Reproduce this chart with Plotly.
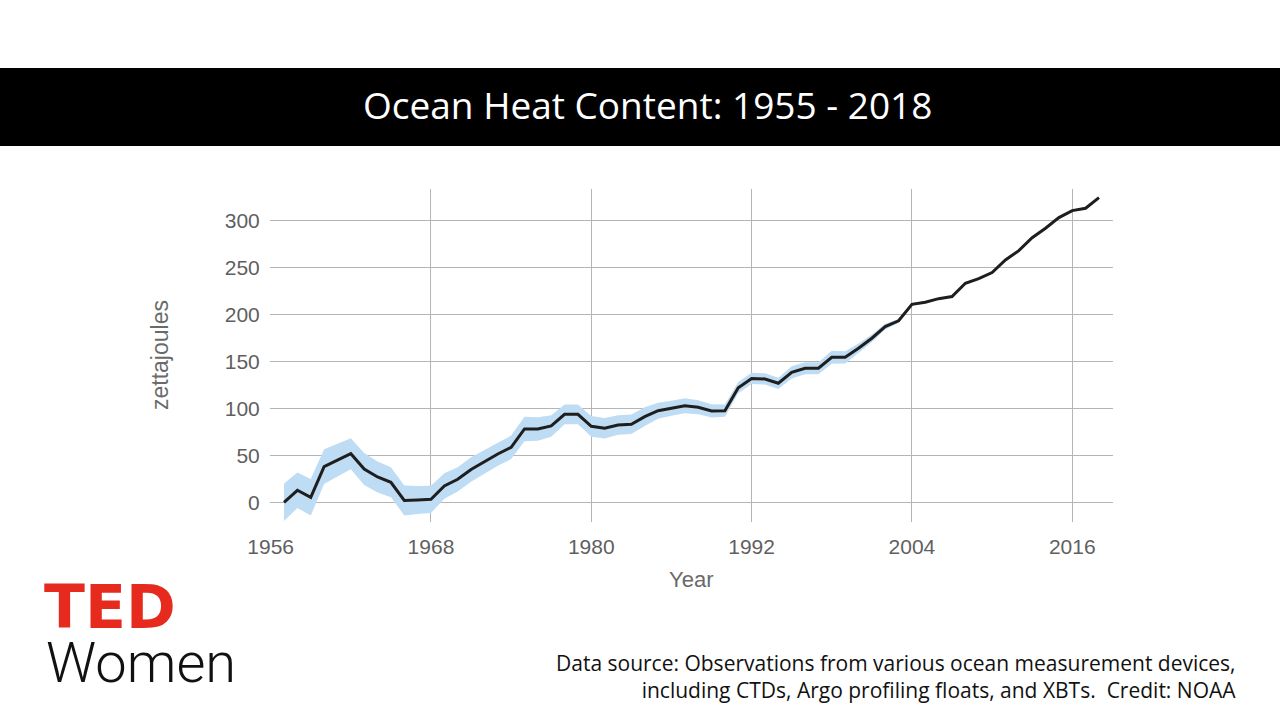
import plotly.graph_objects as go

# ---- data ----
years = list(range(1957, 2019))
heat_zj = [0, 12.8, 5.3, 38, 45, 51.8, 35.5, 27, 21.3, 2, 2.5,
           3.2, 17.4, 24.5, 35, 43.3, 51.5, 58.6, 78.2, 78.2, 81.4, 93.8, 93.8,
           81, 78.9, 82.4, 83.2, 91.3, 97.7, 100.2, 103, 101.3, 97.4, 97.7, 122.2,
           132, 131.5, 126.9, 138.6, 142.9, 142.9, 154.6, 154.6, 164.2, 174.9, 187.3, 193.5,
           211.1, 213.3, 217.1, 219.3, 233.5, 238.5, 244.9, 258.4, 268.3, 282, 292.2, 303.5,
           311, 313.5, 324.8]
uncert_zj = [20, 19, 19.5, 18.5, 17.5, 16.5, 17, 16.5, 16, 16, 15,
             14.5, 13.5, 13, 13, 12.5, 12.5, 12.5, 13, 12.5, 11.5, 10.5, 10.5,
             11, 11, 10.5, 10.5, 10, 8.5, 8, 8, 7.5, 7, 6.5, 6,
             6, 6, 6, 6.5, 6.5, 6.5, 7, 6.5, 5, 4, 3, 2,
             1.5, 1, 1, 1, 1, 1, 1, 1, 1, 1, 1, 1,
             1, 1, 1]
x_ticks = [1956, 1968, 1980, 1992, 2004, 2016]
y_ticks = [0, 50, 100, 150, 200, 250, 300]

upper = [v + e for v, e in zip(heat_zj, uncert_zj)]
lower = [v - e for v, e in zip(heat_zj, uncert_zj)]

# ---- geometry helpers (pixel -> paper) ----
W, H = 1280, 720
L, R, T, B = 270, 1113, 189, 522
def px(x):
    return (x - L) / (R - L)
def py(y):
    return (B - y) / (B - T)

fig = go.Figure()
fig.add_trace(go.Scatter(x=years, y=lower, mode="lines", line=dict(width=0),
                         hoverinfo="skip", showlegend=False))
fig.add_trace(go.Scatter(x=years, y=upper, mode="lines", line=dict(width=0),
                         fill="tonexty", fillcolor="#bfdcf5",
                         hoverinfo="skip", showlegend=False))
fig.add_trace(go.Scatter(x=years, y=heat_zj, mode="lines",
                         line=dict(color="#1e1e1e", width=3),
                         showlegend=False))

tick_font = dict(family="Liberation Sans, Arial, sans-serif", size=21, color="#5f5f5f")

fig.update_layout(
    width=W, height=H, autosize=False,
    margin=dict(l=L, r=W - R, t=T, b=H - B, pad=0),
    paper_bgcolor="white", plot_bgcolor="white",
    showlegend=False,
    xaxis=dict(range=[1955.95, 2019.05], tickvals=x_ticks, ticktext=[str(t) for t in x_ticks],
               showgrid=True, gridcolor="#b5b5b5", gridwidth=1, zeroline=False,
               showline=False, ticks="outside", ticklen=6, tickcolor="rgba(0,0,0,0)",
               tickfont=tick_font),
    yaxis=dict(range=[-21, 334], tickvals=y_ticks,
               showgrid=True, gridcolor="#b5b5b5", gridwidth=1, zeroline=False,
               showline=False, ticks="outside", ticklen=5, tickcolor="rgba(0,0,0,0)",
               tickfont=tick_font),
)

# black title bar
fig.add_shape(type="rect", xref="paper", yref="paper",
              x0=px(0), x1=px(W), y0=py(146), y1=py(68),
              fillcolor="black", line=dict(width=0), layer="above")
fig.add_annotation(xref="paper", yref="paper", x=px(647), y=py(104),
                   text="Ocean Heat Content: 1955 - 2018", showarrow=False,
                   xanchor="center", yanchor="middle",
                   font=dict(family="Open Sans, sans-serif", size=37, color="white"))

# axis titles
fig.add_annotation(xref="paper", yref="paper", x=px(691), y=py(579),
                   text="Year", showarrow=False, xanchor="center", yanchor="middle",
                   font=dict(family="Liberation Sans, Arial, sans-serif", size=22, color="#6a6a6a"))
fig.add_annotation(xref="paper", yref="paper", x=px(160), y=py(355),
                   text="zettajoules", showarrow=False, textangle=-90,
                   xanchor="center", yanchor="middle",
                   font=dict(family="Liberation Sans, Arial, sans-serif", size=23, color="#6a6a6a"))

# TED Women logo
fig.add_annotation(xref="paper", yref="paper", x=px(42), y=py(607),
                   text="<b>TED</b>", showarrow=False, xanchor="left", yanchor="middle",
                   height=54, valign="middle",
                   font=dict(family="DejaVu Sans, sans-serif", size=60,
                             color="#e62b1e", weight=900))
fig.add_annotation(xref="paper", yref="paper", x=px(44), y=py(663),
                   text="Women", showarrow=False, xanchor="left", yanchor="middle",
                   height=58, valign="middle",
                   font=dict(family="Roboto, Liberation Sans, sans-serif", size=56,
                             color="#111111", weight=300))

# source note
fig.add_annotation(xref="paper", yref="paper", x=px(1238), y=py(676),
                   text="Data source: Observations from various ocean measurement devices,<br>"
                        "including CTDs, Argo profiling floats, and XBTs.  Credit: NOAA",
                   showarrow=False, xanchor="right", yanchor="middle", align="right",
                   font=dict(family="Open Sans, sans-serif", size=21, color="#111111"))

fig.write_html("out.html")
